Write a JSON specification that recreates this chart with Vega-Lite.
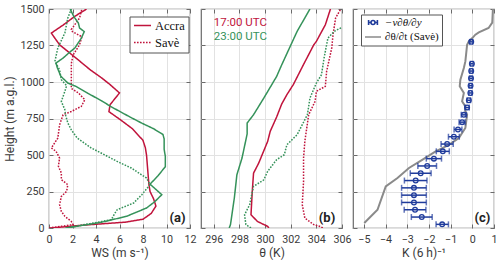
{
  "$schema": "https://vega.github.io/schema/vega-lite/v6.json",
  "padding": {"left": 3, "top": 2, "right": 0, "bottom": 0},
  "bounds": "flush",
  "spacing": 11,
  "config": {
    "view": {"stroke": "#6a6a6a", "strokeWidth": 1.2},
    "axis": {
      "labelFont": "Roboto", "labelFontSize": 10.7, "labelColor": "#3a3a3a",
      "titleFont": "Roboto", "titleFontSize": 12, "titleFontWeight": "normal", "titleColor": "#3a3a3a",
      "domain": false, "tickColor": "#6a6a6a", "tickSize": -4, "tickWidth": 1,
      "gridColor": "#e2e2e2", "gridWidth": 1,
      "labelFlush": false, "labelOverlap": false, "labelPadding": 10, "titlePadding": 4
    },
    "text": {"font": "Roboto"}
  },
  "datasets": {
    "ws": [
      {"site":"Accra","time":"17:00 UTC","h":0,"ws":0.1},{"site":"Accra","time":"17:00 UTC","h":20,"ws":3.0},{"site":"Accra","time":"17:00 UTC","h":40,"ws":6.5},{"site":"Accra","time":"17:00 UTC","h":60,"ws":8.0},{"site":"Accra","time":"17:00 UTC","h":100,"ws":8.7},{"site":"Accra","time":"17:00 UTC","h":150,"ws":9.1},{"site":"Accra","time":"17:00 UTC","h":200,"ws":8.9},{"site":"Accra","time":"17:00 UTC","h":250,"ws":8.6},{"site":"Accra","time":"17:00 UTC","h":300,"ws":8.5},{"site":"Accra","time":"17:00 UTC","h":400,"ws":8.4},{"site":"Accra","time":"17:00 UTC","h":500,"ws":8.3},{"site":"Accra","time":"17:00 UTC","h":550,"ws":8.2},{"site":"Accra","time":"17:00 UTC","h":600,"ws":8.0},{"site":"Accra","time":"17:00 UTC","h":680,"ws":7.1},{"site":"Accra","time":"17:00 UTC","h":740,"ws":6.1},{"site":"Accra","time":"17:00 UTC","h":797,"ws":5.1},{"site":"Accra","time":"17:00 UTC","h":845,"ws":5.2},{"site":"Accra","time":"17:00 UTC","h":925,"ws":6.0},{"site":"Accra","time":"17:00 UTC","h":982,"ws":5.2},{"site":"Accra","time":"17:00 UTC","h":1027,"ws":4.5},{"site":"Accra","time":"17:00 UTC","h":1084,"ws":3.5},{"site":"Accra","time":"17:00 UTC","h":1164,"ws":2.3},{"site":"Accra","time":"17:00 UTC","h":1255,"ws":0.9},{"site":"Accra","time":"17:00 UTC","h":1300,"ws":0.5},{"site":"Accra","time":"17:00 UTC","h":1335,"ws":0.2},{"site":"Accra","time":"17:00 UTC","h":1390,"ws":1.2},{"site":"Accra","time":"17:00 UTC","h":1450,"ws":2.2},{"site":"Accra","time":"17:00 UTC","h":1500,"ws":3.2},
      {"site":"Savè","time":"17:00 UTC","h":0,"ws":0.0},{"site":"Savè","time":"17:00 UTC","h":23,"ws":2.05},{"site":"Savè","time":"17:00 UTC","h":45,"ws":1.9},{"site":"Savè","time":"17:00 UTC","h":80,"ws":1.35},{"site":"Savè","time":"17:00 UTC","h":114,"ws":1.05},{"site":"Savè","time":"17:00 UTC","h":160,"ws":0.9},{"site":"Savè","time":"17:00 UTC","h":216,"ws":1.05},{"site":"Savè","time":"17:00 UTC","h":251,"ws":1.5},{"site":"Savè","time":"17:00 UTC","h":297,"ws":1.6},{"site":"Savè","time":"17:00 UTC","h":331,"ws":1.05},{"site":"Savè","time":"17:00 UTC","h":377,"ws":1.05},{"site":"Savè","time":"17:00 UTC","h":422,"ws":0.8},{"site":"Savè","time":"17:00 UTC","h":479,"ws":0.9},{"site":"Savè","time":"17:00 UTC","h":525,"ws":0.6},{"site":"Savè","time":"17:00 UTC","h":548,"ws":0.2},{"site":"Savè","time":"17:00 UTC","h":616,"ws":0.75},{"site":"Savè","time":"17:00 UTC","h":707,"ws":0.9},{"site":"Savè","time":"17:00 UTC","h":776,"ws":1.2},{"site":"Savè","time":"17:00 UTC","h":798,"ws":1.9},{"site":"Savè","time":"17:00 UTC","h":833,"ws":2.75},{"site":"Savè","time":"17:00 UTC","h":879,"ws":3.05},{"site":"Savè","time":"17:00 UTC","h":925,"ws":2.5},{"site":"Savè","time":"17:00 UTC","h":956,"ws":1.9},{"site":"Savè","time":"17:00 UTC","h":1047,"ws":1.9},{"site":"Savè","time":"17:00 UTC","h":1127,"ws":1.9},{"site":"Savè","time":"17:00 UTC","h":1185,"ws":2.05},{"site":"Savè","time":"17:00 UTC","h":1255,"ws":2.6},{"site":"Savè","time":"17:00 UTC","h":1310,"ws":2.8},{"site":"Savè","time":"17:00 UTC","h":1345,"ws":2.0},{"site":"Savè","time":"17:00 UTC","h":1360,"ws":1.9},{"site":"Savè","time":"17:00 UTC","h":1438,"ws":2.6},{"site":"Savè","time":"17:00 UTC","h":1500,"ws":2.8},
      {"site":"Accra","time":"23:00 UTC","h":0,"ws":1.5},{"site":"Accra","time":"23:00 UTC","h":40,"ws":4.5},{"site":"Accra","time":"23:00 UTC","h":80,"ws":6.6},{"site":"Accra","time":"23:00 UTC","h":137,"ws":8.3},{"site":"Accra","time":"23:00 UTC","h":180,"ws":9.0},{"site":"Accra","time":"23:00 UTC","h":228,"ws":9.6},{"site":"Accra","time":"23:00 UTC","h":300,"ws":8.6},{"site":"Accra","time":"23:00 UTC","h":360,"ws":9.3},{"site":"Accra","time":"23:00 UTC","h":420,"ws":9.9},{"site":"Accra","time":"23:00 UTC","h":490,"ws":9.9},{"site":"Accra","time":"23:00 UTC","h":540,"ws":9.8},{"site":"Accra","time":"23:00 UTC","h":610,"ws":9.8},{"site":"Accra","time":"23:00 UTC","h":640,"ws":9.7},{"site":"Accra","time":"23:00 UTC","h":680,"ws":8.9},{"site":"Accra","time":"23:00 UTC","h":718,"ws":7.9},{"site":"Accra","time":"23:00 UTC","h":760,"ws":6.9},{"site":"Accra","time":"23:00 UTC","h":830,"ws":5.3},{"site":"Accra","time":"23:00 UTC","h":870,"ws":4.5},{"site":"Accra","time":"23:00 UTC","h":923,"ws":3.3},{"site":"Accra","time":"23:00 UTC","h":970,"ws":2.3},{"site":"Accra","time":"23:00 UTC","h":993,"ws":1.6},{"site":"Accra","time":"23:00 UTC","h":1040,"ws":1.0},{"site":"Accra","time":"23:00 UTC","h":1100,"ws":0.7},{"site":"Accra","time":"23:00 UTC","h":1130,"ws":0.6},{"site":"Accra","time":"23:00 UTC","h":1164,"ws":1.2},{"site":"Accra","time":"23:00 UTC","h":1200,"ws":1.7},{"site":"Accra","time":"23:00 UTC","h":1233,"ws":2.2},{"site":"Accra","time":"23:00 UTC","h":1300,"ws":2.75},{"site":"Accra","time":"23:00 UTC","h":1345,"ws":3.0},{"site":"Accra","time":"23:00 UTC","h":1370,"ws":2.6},{"site":"Accra","time":"23:00 UTC","h":1404,"ws":2.5},{"site":"Accra","time":"23:00 UTC","h":1450,"ws":2.1},{"site":"Accra","time":"23:00 UTC","h":1500,"ws":1.8},
      {"site":"Savè","time":"23:00 UTC","h":0,"ws":1.4},{"site":"Savè","time":"23:00 UTC","h":30,"ws":3.5},{"site":"Savè","time":"23:00 UTC","h":57,"ws":5.3},{"site":"Savè","time":"23:00 UTC","h":100,"ws":5.6},{"site":"Savè","time":"23:00 UTC","h":125,"ws":5.8},{"site":"Savè","time":"23:00 UTC","h":171,"ws":7.2},{"site":"Savè","time":"23:00 UTC","h":228,"ws":7.9},{"site":"Savè","time":"23:00 UTC","h":297,"ws":8.6},{"site":"Savè","time":"23:00 UTC","h":342,"ws":8.3},{"site":"Savè","time":"23:00 UTC","h":411,"ws":7.0},{"site":"Savè","time":"23:00 UTC","h":456,"ws":5.8},{"site":"Savè","time":"23:00 UTC","h":490,"ws":5.0},{"site":"Savè","time":"23:00 UTC","h":548,"ws":3.6},{"site":"Savè","time":"23:00 UTC","h":616,"ws":2.4},{"site":"Savè","time":"23:00 UTC","h":672,"ws":1.9},{"site":"Savè","time":"23:00 UTC","h":720,"ws":1.6},{"site":"Savè","time":"23:00 UTC","h":776,"ws":1.4},{"site":"Savè","time":"23:00 UTC","h":810,"ws":1.35},{"site":"Savè","time":"23:00 UTC","h":867,"ws":1.05},{"site":"Savè","time":"23:00 UTC","h":936,"ws":1.35},{"site":"Savè","time":"23:00 UTC","h":975,"ws":1.5},{"site":"Savè","time":"23:00 UTC","h":1016,"ws":1.05},{"site":"Savè","time":"23:00 UTC","h":1084,"ws":0.9},{"site":"Savè","time":"23:00 UTC","h":1141,"ws":0.5},{"site":"Savè","time":"23:00 UTC","h":1233,"ws":0.75},{"site":"Savè","time":"23:00 UTC","h":1336,"ws":1.35},{"site":"Savè","time":"23:00 UTC","h":1438,"ws":1.6},{"site":"Savè","time":"23:00 UTC","h":1500,"ws":1.9}
    ],
    "th": [
      {"site":"Accra","time":"17:00 UTC","h":0,"th":300.3},{"site":"Accra","time":"17:00 UTC","h":11,"th":300.2},{"site":"Accra","time":"17:00 UTC","h":45,"th":299.4},{"site":"Accra","time":"17:00 UTC","h":91,"th":298.9},{"site":"Accra","time":"17:00 UTC","h":251,"th":299.0},{"site":"Accra","time":"17:00 UTC","h":376,"th":299.1},{"site":"Accra","time":"17:00 UTC","h":444,"th":299.5},{"site":"Accra","time":"17:00 UTC","h":593,"th":300.2},{"site":"Accra","time":"17:00 UTC","h":662,"th":300.4},{"site":"Accra","time":"17:00 UTC","h":760,"th":300.9},{"site":"Accra","time":"17:00 UTC","h":850,"th":301.3},{"site":"Accra","time":"17:00 UTC","h":913,"th":301.7},{"site":"Accra","time":"17:00 UTC","h":982,"th":302.2},{"site":"Accra","time":"17:00 UTC","h":1120,"th":303.0},{"site":"Accra","time":"17:00 UTC","h":1255,"th":303.8},{"site":"Accra","time":"17:00 UTC","h":1278,"th":304.0},{"site":"Accra","time":"17:00 UTC","h":1392,"th":304.7},{"site":"Accra","time":"17:00 UTC","h":1500,"th":305.1},
      {"site":"Savè","time":"17:00 UTC","h":0,"th":304.5},{"site":"Savè","time":"17:00 UTC","h":10,"th":304.3},{"site":"Savè","time":"17:00 UTC","h":23,"th":303.8},{"site":"Savè","time":"17:00 UTC","h":68,"th":303.1},{"site":"Savè","time":"17:00 UTC","h":160,"th":302.9},{"site":"Savè","time":"17:00 UTC","h":319,"th":303.0},{"site":"Savè","time":"17:00 UTC","h":479,"th":303.0},{"site":"Savè","time":"17:00 UTC","h":593,"th":303.1},{"site":"Savè","time":"17:00 UTC","h":776,"th":303.4},{"site":"Savè","time":"17:00 UTC","h":867,"th":303.9},{"site":"Savè","time":"17:00 UTC","h":936,"th":304.0},{"site":"Savè","time":"17:00 UTC","h":970,"th":304.7},{"site":"Savè","time":"17:00 UTC","h":1073,"th":304.8},{"site":"Savè","time":"17:00 UTC","h":1233,"th":305.2},{"site":"Savè","time":"17:00 UTC","h":1324,"th":305.3},{"site":"Savè","time":"17:00 UTC","h":1438,"th":305.5},{"site":"Savè","time":"17:00 UTC","h":1500,"th":305.9},
      {"site":"Accra","time":"23:00 UTC","h":0,"th":297.2},{"site":"Accra","time":"23:00 UTC","h":23,"th":297.3},{"site":"Accra","time":"23:00 UTC","h":205,"th":297.6},{"site":"Accra","time":"23:00 UTC","h":365,"th":297.8},{"site":"Accra","time":"23:00 UTC","h":479,"th":298.2},{"site":"Accra","time":"23:00 UTC","h":644,"th":298.6},{"site":"Accra","time":"23:00 UTC","h":719,"th":298.6},{"site":"Accra","time":"23:00 UTC","h":776,"th":299.1},{"site":"Accra","time":"23:00 UTC","h":890,"th":299.9},{"site":"Accra","time":"23:00 UTC","h":1038,"th":300.9},{"site":"Accra","time":"23:00 UTC","h":1118,"th":301.3},{"site":"Accra","time":"23:00 UTC","h":1347,"th":302.5},{"site":"Accra","time":"23:00 UTC","h":1500,"th":303.5},
      {"site":"Savè","time":"23:00 UTC","h":0,"th":298.9},{"site":"Savè","time":"23:00 UTC","h":23,"th":298.5},{"site":"Savè","time":"23:00 UTC","h":91,"th":298.4},{"site":"Savè","time":"23:00 UTC","h":160,"th":298.8},{"site":"Savè","time":"23:00 UTC","h":205,"th":298.9},{"site":"Savè","time":"23:00 UTC","h":285,"th":299.1},{"site":"Savè","time":"23:00 UTC","h":330,"th":299.9},{"site":"Savè","time":"23:00 UTC","h":388,"th":300.2},{"site":"Savè","time":"23:00 UTC","h":468,"th":300.9},{"site":"Savè","time":"23:00 UTC","h":502,"th":301.5},{"site":"Savè","time":"23:00 UTC","h":570,"th":301.7},{"site":"Savè","time":"23:00 UTC","h":639,"th":302.5},{"site":"Savè","time":"23:00 UTC","h":776,"th":303.3},{"site":"Savè","time":"23:00 UTC","h":890,"th":303.5},{"site":"Savè","time":"23:00 UTC","h":993,"th":304.0},{"site":"Savè","time":"23:00 UTC","h":1050,"th":304.4},{"site":"Savè","time":"23:00 UTC","h":1164,"th":304.6},{"site":"Savè","time":"23:00 UTC","h":1255,"th":304.8},{"site":"Savè","time":"23:00 UTC","h":1301,"th":304.9},{"site":"Savè","time":"23:00 UTC","h":1347,"th":305.4},{"site":"Savè","time":"23:00 UTC","h":1370,"th":305.9},{"site":"Savè","time":"23:00 UTC","h":1400,"th":306.8}
    ],
    "tend": [
      {"h":34,"k":-4.98},{"h":125,"k":-4.37},{"h":285,"k":-3.99},{"h":342,"k":-3.45},{"h":411,"k":-2.92},{"h":467,"k":-2.31},{"h":525,"k":-1.69},{"h":570,"k":-1.08},{"h":616,"k":-0.62},{"h":685,"k":-0.32},{"h":776,"k":-0.24},{"h":798,"k":-0.32},{"h":833,"k":-0.32},{"h":867,"k":-0.47},{"h":925,"k":-0.39},{"h":970,"k":-0.58},{"h":1016,"k":-0.55},{"h":1096,"k":-0.39},{"h":1141,"k":-0.32},{"h":1255,"k":-0.24},{"h":1278,"k":-0.16},{"h":1301,"k":0.0},{"h":1324,"k":0.14},{"h":1340,"k":0.3},{"h":1370,"k":0.75},{"h":1407,"k":0.92},{"h":1500,"k":0.95}
    ],
    "adv": [
      {"h":25,"k":-1.39,"lo":-1.67,"hi":-1.10},{"h":75,"k":-2.33,"lo":-2.81,"hi":-1.85},{"h":125,"k":-2.64,"lo":-3.14,"hi":-2.14},{"h":175,"k":-2.69,"lo":-3.26,"hi":-2.12},{"h":225,"k":-2.69,"lo":-3.26,"hi":-2.12},{"h":275,"k":-2.69,"lo":-3.26,"hi":-2.12},{"h":325,"k":-2.61,"lo":-3.13,"hi":-2.09},{"h":375,"k":-2.38,"lo":-2.86,"hi":-1.90},{"h":425,"k":-2.08,"lo":-2.51,"hi":-1.65},{"h":475,"k":-1.77,"lo":-2.12,"hi":-1.42},{"h":525,"k":-1.36,"lo":-1.66,"hi":-1.06},{"h":575,"k":-1.16,"lo":-1.44,"hi":-0.88},{"h":625,"k":-0.85,"lo":-1.10,"hi":-0.60},{"h":675,"k":-0.66,"lo":-0.84,"hi":-0.48},{"h":725,"k":-0.47,"lo":-0.61,"hi":-0.33},{"h":775,"k":-0.39,"lo":-0.51,"hi":-0.27},{"h":825,"k":-0.24,"lo":-0.34,"hi":-0.14},{"h":875,"k":-0.16,"lo":-0.24,"hi":-0.08},{"h":925,"k":-0.09,"lo":-0.16,"hi":-0.02},{"h":975,"k":-0.08,"lo":-0.15,"hi":-0.01},{"h":1025,"k":-0.06,"lo":-0.13,"hi":0.01},{"h":1075,"k":-0.05,"lo":-0.12,"hi":0.02},{"h":1125,"k":-0.02,"lo":-0.09,"hi":0.05},{"h":1275,"k":-0.05,"lo":-0.12,"hi":0.02}
    ]
  },
  "resolve": {"scale": {"color": "independent", "strokeDash": "independent"}, "legend": {"color": "independent", "strokeDash": "independent"}},
  "hconcat": [
    {
      "width": 141, "height": 219,
      "layer": [
        {
          "data": {"name": "ws"},
          "mark": {"type": "line", "strokeWidth": 1.5, "clip": true},
          "encoding": {
            "x": {"field": "ws", "type": "quantitative", "scale": {"domain": [0, 12], "nice": false, "zero": false}, "axis": {"values": [0,2,4,6,8,10,12], "title": "WS (m s⁻¹)", "grid": true}},
            "y": {"field": "h", "type": "quantitative", "scale": {"domain": [0, 1500], "nice": false}, "axis": {"values": [0,250,500,750,1000,1250,1500], "format": "d", "title": "Height (m a.g.l.)", "grid": true, "labelPadding": 9, "titlePadding": 3}},
            "color": {"field": "time", "type": "nominal", "scale": {"domain": ["17:00 UTC", "23:00 UTC"], "range": ["#c0143c", "#35925a"]}, "legend": null},
            "strokeDash": {"field": "site", "type": "nominal", "scale": {"domain": ["Accra", "Savè"], "range": [[1, 0], [1.6, 1.4]]},
              "legend": {"orient": "none", "legendX": 80.5, "legendY": 7.5, "title": null, "fillColor": "white", "strokeColor": "#555", "padding": 3.5, "labelFont": "Liberation Serif", "labelFontSize": 12.5, "labelColor": "#111", "symbolType": "stroke", "symbolSize": 289, "symbolStrokeWidth": 1.5, "symbolStrokeColor": "#c0143c", "labelOffset": 3, "rowPadding": 4, "clipHeight": 11}},
            "order": {"field": "h", "type": "quantitative"}
          }
        },
        {
          "data": {"values": [{}]},
          "mark": {"type": "text", "align": "right", "baseline": "middle", "fontSize": 13, "fontWeight": "bold", "color": "#222"},
          "encoding": {
            "x": {"datum": 11.62, "type": "quantitative", "axis": {"orient": "top", "values": [0,2,4,6,8,10,12], "labels": false, "title": null, "grid": false}},
            "y": {"datum": 70, "type": "quantitative", "axis": {"orient": "right", "values": [0,250,500,750,1000,1250,1500], "labels": false, "title": null, "grid": false}},
            "text": {"value": "(a)"}
          }
        }
      ],
      "resolve": {"axis": {"x": "independent", "y": "independent"}}
    },
    {
      "width": 141, "height": 219,
      "layer": [
        {
          "data": {"name": "th"},
          "mark": {"type": "line", "strokeWidth": 1.5, "clip": true},
          "encoding": {
            "x": {"field": "th", "type": "quantitative", "scale": {"domain": [295, 306], "nice": false, "zero": false}, "axis": {"values": [296,298,300,302,304,306], "title": "θ (K)", "grid": true}},
            "y": {"field": "h", "type": "quantitative", "scale": {"domain": [0, 1500], "nice": false}, "axis": {"values": [0,250,500,750,1000,1250,1500], "labels": false, "title": null, "grid": true}},
            "color": {"field": "time", "type": "nominal", "scale": {"domain": ["17:00 UTC", "23:00 UTC"], "range": ["#c0143c", "#35925a"]}, "legend": null},
            "strokeDash": {"field": "site", "type": "nominal", "scale": {"domain": ["Accra", "Savè"], "range": [[1, 0], [1.6, 1.4]]}, "legend": null},
            "order": {"field": "h", "type": "quantitative"}
          }
        },
        {
          "data": {"values": [{}]},
          "mark": {"type": "text", "align": "left", "baseline": "middle", "fontSize": 11.5, "color": "#c0143c"},
          "encoding": {
            "x": {"datum": 296.0, "type": "quantitative", "axis": null},
            "y": {"datum": 1403, "type": "quantitative", "axis": null},
            "text": {"value": "17:00 UTC"}
          }
        },
        {
          "data": {"values": [{}]},
          "mark": {"type": "text", "align": "left", "baseline": "middle", "fontSize": 11.5, "color": "#35925a"},
          "encoding": {
            "x": {"datum": 296.0, "type": "quantitative", "axis": null},
            "y": {"datum": 1307, "type": "quantitative", "axis": null},
            "text": {"value": "23:00 UTC"}
          }
        },
        {
          "data": {"values": [{}]},
          "mark": {"type": "text", "align": "right", "baseline": "middle", "fontSize": 13, "fontWeight": "bold", "color": "#222"},
          "encoding": {
            "x": {"datum": 305.47, "type": "quantitative", "axis": {"orient": "top", "values": [296,298,300,302,304,306], "labels": false, "title": null, "grid": false}},
            "y": {"datum": 70, "type": "quantitative", "axis": {"orient": "right", "values": [0,250,500,750,1000,1250,1500], "labels": false, "title": null, "grid": false}},
            "text": {"value": "(b)"}
          }
        }
      ],
      "resolve": {"axis": {"x": "independent", "y": "independent"}}
    },
    {
      "width": 141, "height": 219,
      "layer": [
        {
          "data": {"name": "tend"},
          "mark": {"type": "line", "strokeWidth": 2, "clip": true},
          "encoding": {
            "x": {"field": "k", "type": "quantitative", "scale": {"domain": [-5.5, 1], "nice": false, "zero": false}, "axis": {"values": [-5,-4,-3,-2,-1,0,1], "title": "K (6 h)⁻¹", "grid": true}},
            "y": {"field": "h", "type": "quantitative", "scale": {"domain": [0, 1500], "nice": false}, "axis": {"values": [0,250,500,750,1000,1250,1500], "labels": false, "title": null, "grid": true}},
            "color": {"datum": "∂θ/∂t (Savè)", "type": "nominal"},
            "order": {"field": "h", "type": "quantitative"}
          }
        },
        {
          "mark": {"type": "rule", "color": "#777", "strokeWidth": 1.6},
          "encoding": {"x": {"datum": 0, "type": "quantitative", "axis": null}}
        },
        {
          "data": {"name": "adv"},
          "mark": {"type": "errorbar", "color": "#1f3b9b", "thickness": 1.5, "ticks": {"size": 6, "thickness": 1.5, "color": "#1f3b9b"}},
          "encoding": {
            "x": {"field": "lo", "type": "quantitative", "axis": null},
            "x2": {"field": "hi"},
            "y": {"field": "h", "type": "quantitative", "axis": null}
          }
        },
        {
          "data": {"name": "adv"},
          "mark": {"type": "point", "filled": false, "size": 22, "strokeWidth": 1.3, "opacity": 1},
          "encoding": {
            "x": {"field": "k", "type": "quantitative", "axis": null},
            "y": {"field": "h", "type": "quantitative", "axis": null},
            "color": {"datum": "−v∂θ/∂y", "type": "nominal", "scale": {"domain": ["−v∂θ/∂y", "∂θ/∂t (Savè)"], "range": ["#1f3b9b", "#8a8a8a"]},
              "legend": {"orient": "none", "legendX": 8, "legendY": 5.5, "title": null, "fillColor": "white", "strokeColor": "#555", "padding": 3, "labelFont": "Liberation Serif", "labelFontSize": 11, "labelColor": "#111", "symbolSize": 256, "symbolStrokeWidth": 1.6, "labelOffset": 3, "rowPadding": 3.5, "clipHeight": 10,
                "encoding": {
                  "symbols": {"shape": {"value": {"expr": "indexof(datum.value, 'Sav') >= 0 ? 'stroke' : 'M-0.55,-0.3L-0.55,0.3M-0.55,0L-0.25,0M0.25,0L0.55,0M0.55,-0.3L0.55,0.3M0.25,0A0.25,0.25 0 1,1 -0.25,0A0.25,0.25 0 1,1 0.25,0'"}}, "fill": {"value": "transparent"}, "opacity": {"value": 1}},
                  "labels": {"fontStyle": {"value": {"expr": "indexof(datum.value, 'Sav') >= 0 ? 'normal' : 'italic'"}}}
                }}}
          }
        },
        {
          "data": {"values": [{}]},
          "mark": {"type": "text", "align": "right", "baseline": "middle", "fontSize": 13, "fontWeight": "bold", "color": "#222"},
          "encoding": {
            "x": {"datum": 0.83, "type": "quantitative", "axis": {"orient": "top", "values": [-5,-4,-3,-2,-1,0,1], "labels": false, "title": null, "grid": false}},
            "y": {"datum": 70, "type": "quantitative", "axis": {"orient": "right", "values": [0,250,500,750,1000,1250,1500], "labels": false, "title": null, "grid": false}},
            "text": {"value": "(c)"}
          }
        }
      ],
      "resolve": {"axis": {"x": "independent", "y": "independent"}}
    }
  ]
}
